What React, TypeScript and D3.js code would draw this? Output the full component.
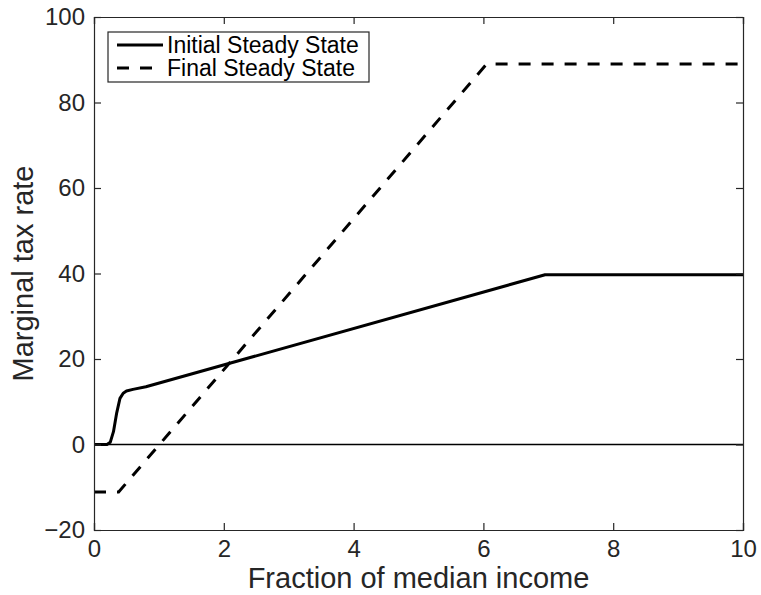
import React, { useEffect, useRef } from 'react';
import * as d3 from 'd3';

// values
const xTicks = [0, 2, 4, 6, 8, 10];
const yTicks = [-20, 0, 20, 40, 60, 80, 100];

const initialX = [0, 0.2, 0.25, 0.3, 0.35, 0.4, 0.45, 0.5, 0.6, 0.8, 6.95, 10];
const initialY = [0, 0, 0.5, 3.0, 7.4, 10.8, 12.0, 12.5, 12.9, 13.5, 39.7, 39.7];

const finalX = [0, 0.38, 6.05, 10];
const finalY = [-11.1, -11.1, 89, 89];

const seriesNames = ['Initial Steady State', 'Final Steady State'];

const App = () => {
  const ref = useRef<SVGSVGElement>(null);

  useEffect(() => {
    const width = 761;
    const height = 595;
    const margin = { top: 17, right: 18, bottom: 65, left: 94 };
    const ink = '#262626';
    const font = '"Liberation Sans", Arial, Helvetica, sans-serif';

    const svg = d3.select(ref.current);
    svg.selectAll('*').remove();

    const x = d3.scaleLinear().domain([0, 10]).range([margin.left, width - margin.right]);
    const y = d3.scaleLinear().domain([-20, 100]).range([height - margin.bottom, margin.top]);

    const line = d3.line<[number, number]>()
      .x(d => x(d[0]))
      .y(d => y(d[1]));

    // zero reference line
    svg.append('line')
      .attr('x1', x(0)).attr('x2', x(10))
      .attr('y1', y(0)).attr('y2', y(0))
      .attr('stroke', '#000')
      .attr('stroke-width', 1.5);

    const initial: [number, number][] = initialX.map((v, i) => [v, initialY[i]]);
    const final: [number, number][] = finalX.map((v, i) => [v, finalY[i]]);

    svg.append('path')
      .datum(initial)
      .attr('fill', 'none')
      .attr('stroke', '#000')
      .attr('stroke-width', 3)
      .attr('stroke-linejoin', 'round')
      .attr('d', line);

    svg.append('path')
      .datum(final)
      .attr('fill', 'none')
      .attr('stroke', '#000')
      .attr('stroke-width', 3)
      .attr('stroke-dasharray', '12,11')
      .attr('d', line);

    // axes, MATLAB style box with inward ticks
    const tick = 7;
    const bottom = svg.append('g')
      .attr('transform', `translate(0,${y(-20)})`)
      .call(d3.axisBottom(x).tickValues(xTicks).tickSize(-tick).tickPadding(10).tickFormat(d3.format('d')));
    const top = svg.append('g')
      .attr('transform', `translate(0,${y(100)})`)
      .call(d3.axisTop(x).tickValues(xTicks).tickSize(-tick).tickFormat(() => ''));
    const left = svg.append('g')
      .attr('transform', `translate(${x(0)},0)`)
      .call(d3.axisLeft(y).tickValues(yTicks).tickSize(-tick).tickPadding(9).tickFormat(d3.format('d')));
    const right = svg.append('g')
      .attr('transform', `translate(${x(10)},0)`)
      .call(d3.axisRight(y).tickValues(yTicks).tickSize(-tick).tickFormat(() => ''));

    [bottom, top, left, right].forEach(g => {
      g.select('.domain').attr('stroke', ink).attr('stroke-width', 1.2);
      g.selectAll('.tick line').attr('stroke', ink).attr('stroke-width', 1.2);
      g.selectAll('.tick text')
        .attr('fill', ink)
        .style('font-family', font)
        .style('font-size', '24px');
    });

    svg.append('text')
      .attr('x', (x(0) + x(10)) / 2)
      .attr('y', 588)
      .attr('text-anchor', 'middle')
      .attr('fill', ink)
      .style('font-family', font)
      .style('font-size', '29px')
      .text('Fraction of median income');

    svg.append('text')
      .attr('transform', `translate(33,${(y(-20) + y(100)) / 2}) rotate(-90)`)
      .attr('text-anchor', 'middle')
      .attr('fill', ink)
      .style('font-family', font)
      .style('font-size', '29px')
      .text('Marginal tax rate');

    // legend
    const legend = svg.append('g').attr('transform', 'translate(108,32)');
    legend.append('rect')
      .attr('width', 261)
      .attr('height', 50)
      .attr('fill', '#fff')
      .attr('stroke', ink)
      .attr('stroke-width', 1.2);

    seriesNames.forEach((name, i) => {
      const ly = 13 + i * 23;
      legend.append('line')
        .attr('x1', 9).attr('x2', 55)
        .attr('y1', ly).attr('y2', ly)
        .attr('stroke', '#000')
        .attr('stroke-width', 3)
        .attr('stroke-dasharray', i === 0 ? null : '12,11');
      legend.append('text')
        .attr('x', 59)
        .attr('y', ly + 8)
        .attr('fill', '#000')
        .style('font-family', font)
        .style('font-size', '23px')
        .text(name);
    });
  }, []);

  return (
    <svg
      ref={ref}
      width={761}
      height={595}
      style={{ position: 'absolute', left: 0, top: 0, display: 'block' }}
    />
  );
};

export default App;
